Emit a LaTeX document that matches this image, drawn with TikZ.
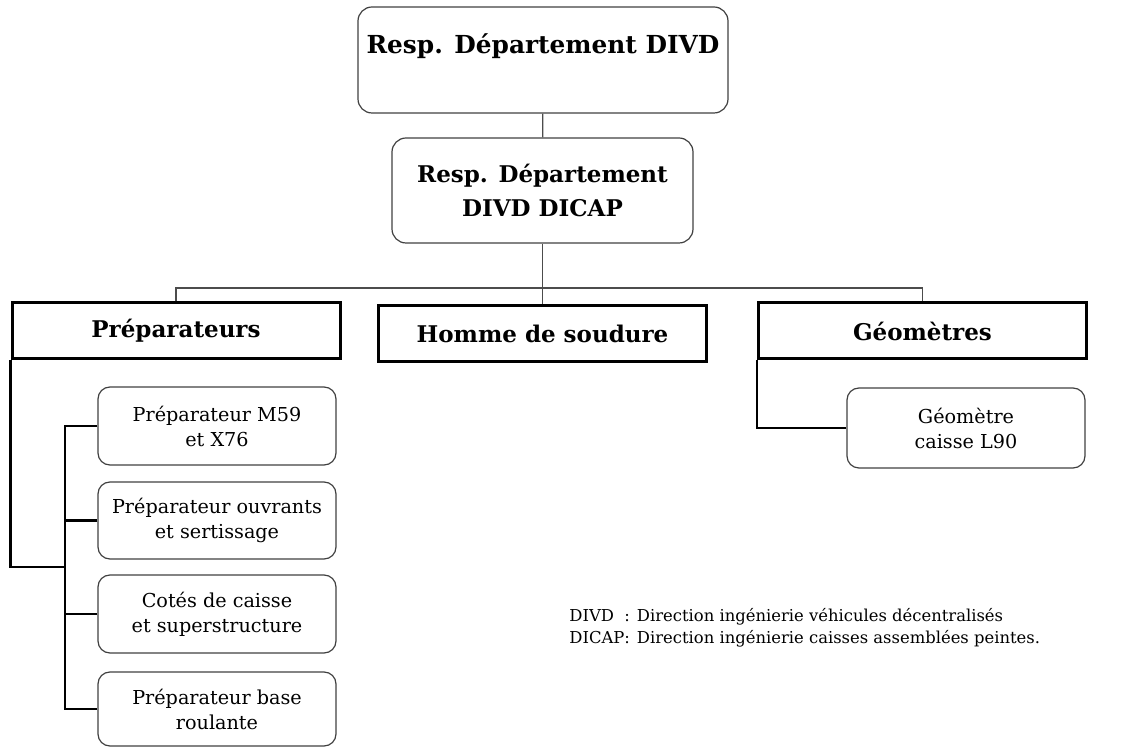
\documentclass[tikz,border=0pt]{standalone}
\usepackage{fontspec}
\setmainfont{DejaVu Serif}
\usepackage{tikz}
\usetikzlibrary{positioning}

\begin{document}
\begin{tikzpicture}[
  x=0.5pt, y=-0.5pt,
  headbox/.style={rectangle, draw=black!75, line width=0.6pt, rounded corners=7pt, align=center,
                  font=\fontsize{11.5}{17}\selectfont\bfseries},
  groupbox/.style={rectangle, draw=black, line width=1.5pt, align=center,
                   minimum width=164pt, minimum height=28pt,
                   font=\fontsize{11.5}{14}\selectfont\bfseries},
  leafbox/.style={rectangle, draw=black!75, line width=0.6pt, rounded corners=6pt, align=center,
                  minimum width=119pt, font=\fontsize{9.6}{12.5}\selectfont},
  link/.style={draw=black!70, line width=0.7pt},
  branch/.style={draw=black, line width=1.4pt}
]
\useasboundingbox (0,0) rectangle (1132,748);
% direction
\node[headbox, minimum width=185pt, minimum height=53pt, text height=10pt, text depth=16pt,
      font=\fontsize{12.4}{17}\selectfont\bfseries] (dir) at (543,60) {Resp. Département DIVD};
\node[headbox, minimum width=150.5pt, minimum height=52.5pt] (resp) at (542.5,190.5) {Resp. Département\\DIVD DICAP};
% groups
\node[groupbox] (prep) at (176,331) {Préparateurs};
\node[groupbox] (soud) at (542.5,333.5) {Homme de soudure};
\node[groupbox] (geo) at (922.5,331) {Géomètres};
% leaves
\node[leafbox, minimum height=39pt] (m59) at (217,426) {Préparateur M59\\et X76};
\node[leafbox, minimum height=38.5pt] (ouv) at (217,520.5) {Préparateur ouvrants\\et sertissage};
\node[leafbox, minimum height=39pt] (cotes) at (217,614) {Cotés de caisse\\et superstructure};
\node[leafbox, minimum height=37pt] (base) at (217,709) {Préparateur base\\roulante};
\node[leafbox, minimum height=40pt] (l90) at (966,428) {Géomètre\\caisse L90};
% legend
\node[anchor=north west, inner sep=0pt, font=\fontsize{8.2}{11}\selectfont] (legend) at (569,606)
  {\begin{tabular}{@{}l@{}l@{}}DIVD & : Direction ingénierie véhicules décentralisés\\
   DICAP & : Direction ingénierie caisses assemblées peintes.\end{tabular}};
% connectors
\coordinate (bus) at (542.5,288);
\coordinate (spine) at (65,567);
\draw[link] (dir) -- (resp);
\draw[link] (resp.south) -- (bus) -- (soud.north);
\draw[link] (prep.north) |- (bus) -| (geo.north);
\draw[branch] (prep.south west) |- (spine);
\draw[branch] (m59.west) -| (spine |- base.west) -- (base.west);
\draw[branch] (ouv.west) -- (ouv.west -| spine);
\draw[branch] (cotes.west) -- (cotes.west -| spine);
\draw[branch] (geo.south west) |- (l90.west);
\end{tikzpicture}
\end{document}
